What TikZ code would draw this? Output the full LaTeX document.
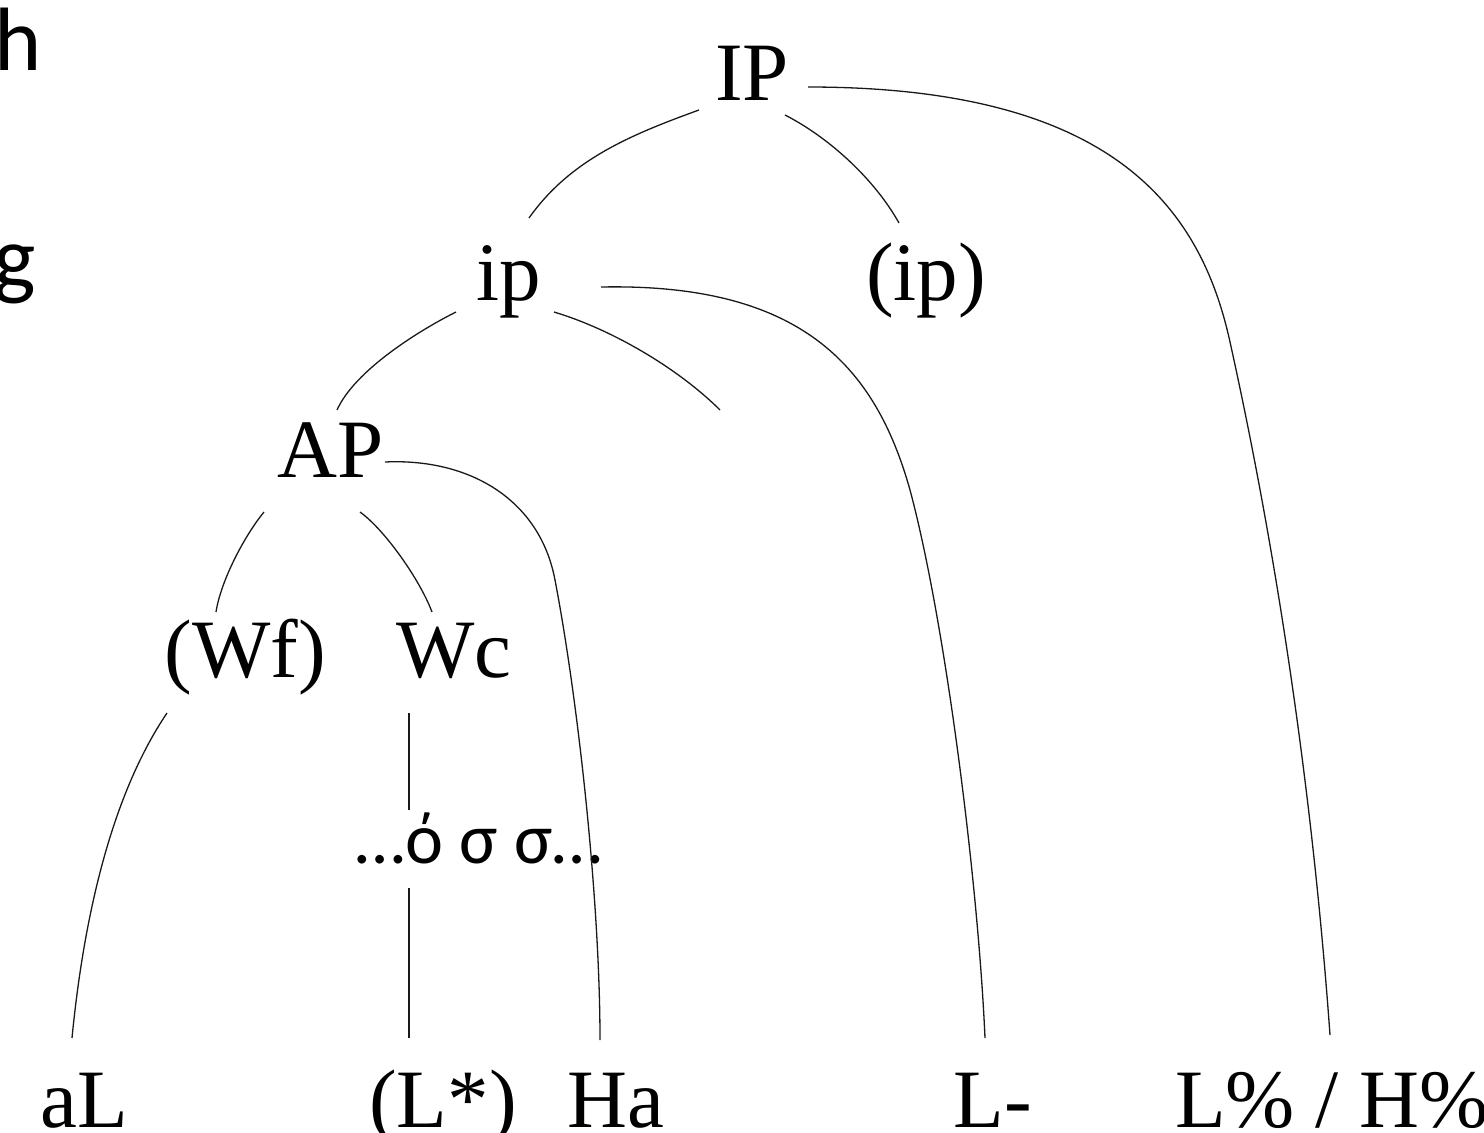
\documentclass[tikz,border=0pt]{standalone}
\usepackage{fontspec}
\setmainfont{Liberation Serif}
\newfontfamily\sansf{Carlito}
\tikzset{
  lbl/.style={inner sep=0pt, anchor=base, font=\fontsize{83}{100}\selectfont},
  syl/.style={inner sep=0pt, anchor=base, font=\sansf\fontsize{72}{80}\selectfont},
  side/.style={inner sep=0pt, anchor=base west, font=\sansf\fontsize{90}{100}\selectfont},
  link/.style={line width=1.3pt, draw=black!90}
}
\begin{document}
\begin{tikzpicture}[x=1pt,y=-1pt]
\useasboundingbox (0,0) rectangle (1484,1133);
% side letters (cut at the left edge)
\node[side] (h) at (-6,70) {h};
\node[side] (g) at (-7,288) {g};
% tree labels
\node[lbl] (IP) at (752,100) {IP};
\node[lbl] (ip) at (509,300) {ip};
\node[lbl] (ipo) at (926,300) {(ip)};
\node[lbl] (AP) at (331,477) {AP};
\node[lbl] (Wf) at (245,677) {(Wf)};
\node[lbl] (Wc) at (454,677) {Wc};
\node[syl] (syl) at (479,863) {…ό σ σ…};
\node[lbl] (aL) at (84,1127) {aL};
\node[lbl] (Ls) at (443,1127) {(L*)};
\node[lbl] (Ha) at (616,1127) {Ha};
\node[lbl] (Lm) at (993,1127) {L-};
\node[lbl, anchor=base west] (LH) at (1175,1127) {L\% / H\%};
% connector ends
\coordinate (IPa) at (699,110);  \coordinate (ipt) at (529,218);
\coordinate (IPb) at (785,115);  \coordinate (ipot) at (899,223);
\coordinate (IPc) at (808,87);   \coordinate (LHt) at (1330,1035);
\coordinate (ipa) at (456,312);  \coordinate (APt) at (337,410);
\coordinate (ipb) at (554,312);  \coordinate (ipd) at (720,410);
\coordinate (ipc) at (601,287);  \coordinate (Lmt) at (985,1038);
\coordinate (APa) at (264,512);  \coordinate (Wft) at (216,612);
\coordinate (APb) at (360,512);  \coordinate (Wct) at (432,612);
\coordinate (APc) at (385,462);  \coordinate (Hat) at (600,1040);
\coordinate (Wfa) at (167,713);  \coordinate (aLt) at (72,1038);
\coordinate (Wca) at (409,713);  \coordinate (sylt) at (409,810);
\coordinate (sylb) at (409,888); \coordinate (Lst) at (409,1038);
% connectors
\draw[link] (IPa) .. controls (630,135) and (570,160) .. (ipt);
\draw[link] (IPb) .. controls (830,138) and (875,180) .. (ipot);
\draw[link] (IPc) .. controls (1110,87) and (1200,205) .. (1230,342)
                  .. controls (1275,545) and (1312,785) .. (LHt);
\draw[link] (ipa) .. controls (420,330) and (355,370) .. (APt);
\draw[link] (ipb) .. controls (614,330) and (680,370) .. (ipd);
\draw[link] (ipc) .. controls (800,283) and (875,365) .. (910,490)
                  .. controls (945,620) and (978,880) .. (Lmt);
\draw[link] (APa) .. controls (245,535) and (221,580) .. (Wft);
\draw[link] (APb) .. controls (385,530) and (420,580) .. (Wct);
\draw[link] (APc) .. controls (470,458) and (540,500) .. (555,580)
                  .. controls (578,700) and (600,900) .. (Hat);
\draw[link] (Wfa) .. controls (115,790) and (85,905) .. (aLt);
\draw[link] (Wca) -- (sylt);
\draw[link] (sylb) -- (Lst);
\end{tikzpicture}
\end{document}
